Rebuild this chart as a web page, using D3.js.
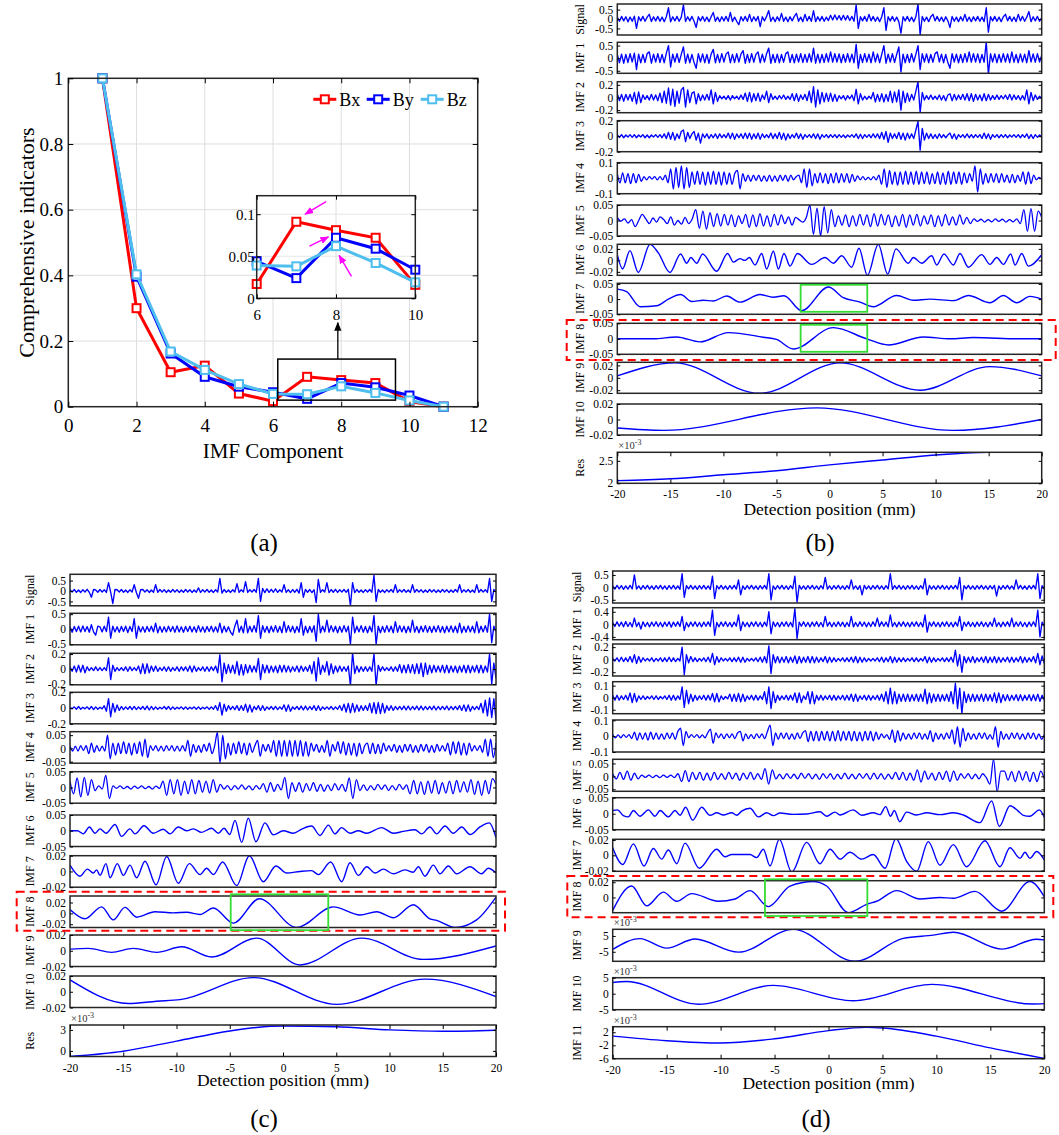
<!DOCTYPE html>
<html>
<head>
<meta charset="utf-8">
<script src="https://cdn.jsdelivr.net/npm/d3@7"></script>
<style>
body { margin: 0; background: #fff; }
svg { display: block; }
</style>
</head>
<body>
<svg id="fig" width="1059" height="1135"></svg>
<script>
// ---------- (a) comprehensive indicators per IMF component
var imfComp = [1, 2, 3, 4, 5, 6, 7, 8, 9, 10, 11];
var bx = [1, 0.30, 0.105, 0.125, 0.04, 0.017, 0.091, 0.081, 0.072, 0.016, 0];
var by = [1, 0.396, 0.162, 0.091, 0.061, 0.044, 0.024, 0.072, 0.059, 0.034, 0];
var bz = [1, 0.403, 0.168, 0.112, 0.069, 0.039, 0.038, 0.062, 0.042, 0.019, 0];
var aTicksX = [0, 2, 4, 6, 8, 10, 12];
var aTicksY = [0, 0.2, 0.4, 0.6, 0.8, 1];
var insetTicksX = [6, 8, 10];
var insetTicksY = [0, 0.05, 0.1];
var posTicks = [-20, -15, -10, -5, 0, 5, 10, 15, 20];

// ---------- (b) decomposition, Bx  (noisy rows: evenly spaced samples over -20..20 mm)
var bSignal = [
0.1,-0.12,0.14,-0.1,0.12,-0.15,0.1,-0.12,0.15,-0.5,0.12,-0.1,0.14,-0.12,0.1,0.25,-0.13,0.12,-0.1,0.14,
-0.12,0.1,-0.14,0.12,0.6,-0.15,0.12,-0.1,0.14,-0.12,0.1,0.75,-0.13,0.12,-0.1,0.14,-0.12,-0.45,0.12,-0.1,
0.14,-0.12,0.1,-0.14,0.12,0.35,-0.12,0.1,-0.14,0.12,-0.1,0.14,-0.12,0.35,-0.13,0.1,-0.12,-0.3,0.12,-0.1,
0.14,-0.12,0.25,-0.14,0.12,-0.1,0.14,-0.4,0.12,-0.1,0.14,0.45,-0.12,0.1,-0.14,0.12,-0.1,0.3,-0.12,0.1,
-0.14,0.12,-0.1,0.14,0.3,-0.12,0.1,-0.14,0.25,-0.1,0.14,-0.12,0.45,-0.14,0.12,-0.1,0.14,-0.12,0.1,-0.08,
0.2,-0.05,0.22,-0.04,0.18,-0.06,0.2,-0.05,0.18,-0.08,0.14,-0.12,0.75,-0.5,0.12,-0.1,0.14,-0.12,0.25,-0.1,
0.14,-0.12,0.1,-0.14,0.12,0.6,-0.6,0.12,-0.1,0.14,-0.12,0.1,-0.14,-0.75,0.12,-0.1,0.14,-0.12,0.1,-0.14,
0.12,0.8,-0.85,0.14,-0.12,0.1,-0.14,0.12,0.25,-0.1,0.14,-0.12,0.1,-0.14,0.12,-0.1,-0.45,0.14,-0.12,0.1,
-0.14,0.12,-0.1,0.25,-0.12,0.1,-0.14,0.12,-0.1,0.14,-0.12,0.1,-0.14,0.6,-0.7,0.12,-0.1,0.14,-0.12,0.1,
-0.14,0.12,0.25,-0.1,0.14,-0.12,0.1,-0.14,0.25,-0.1,0.14,-0.12,0.1,0.4,-0.14,0.12,-0.1,0.14,-0.12,0.08];
var bImf1 = [
0.15,-0.18,0.16,-0.2,0.15,-0.17,0.18,-0.15,0.2,-0.45,0.16,-0.18,0.15,-0.17,0.18,0.25,-0.2,0.16,-0.15,0.18,
-0.17,0.15,-0.18,0.2,0.5,-0.35,0.16,-0.15,0.18,-0.17,0.15,0.45,-0.2,0.16,-0.18,0.15,-0.17,-0.4,0.18,-0.15,
0.17,-0.18,0.15,-0.2,0.16,0.35,-0.18,0.15,-0.17,0.18,-0.15,0.16,0.25,-0.18,0.15,-0.17,0.18,-0.15,0.16,0.3,
-0.2,0.15,-0.17,0.18,-0.16,0.15,0.25,-0.18,0.16,-0.15,0.18,0.4,-0.2,0.15,-0.17,0.16,-0.18,0.15,-0.16,0.18,
0.25,-0.17,0.15,-0.18,0.16,-0.15,0.18,-0.17,0.15,-0.16,0.18,-0.15,0.4,-0.2,0.16,-0.18,0.15,-0.17,0.18,-0.15,
0.25,-0.16,0.18,-0.15,0.17,-0.18,0.15,-0.16,0.18,-0.15,0.16,-0.18,0.55,-0.4,0.15,-0.17,0.18,-0.15,0.16,-0.18,
0.25,-0.15,0.17,-0.18,0.15,0.5,-0.2,0.16,-0.15,0.18,-0.17,0.15,0.45,-0.55,0.16,-0.18,0.15,-0.17,0.18,-0.15,
0.16,0.5,-0.45,0.18,-0.15,0.17,-0.18,0.15,-0.16,0.18,0.25,-0.15,0.16,-0.18,0.15,-0.17,-0.4,0.18,-0.15,0.16,
-0.18,0.15,-0.17,0.18,-0.15,0.25,-0.16,0.18,-0.15,0.17,-0.18,0.15,-0.16,0.65,-0.65,0.18,-0.15,0.17,-0.18,0.15,
-0.16,0.18,-0.15,0.17,-0.18,0.25,-0.16,0.15,-0.18,0.17,-0.15,0.16,-0.18,0.3,-0.15,0.17,-0.16,0.18,-0.15,0.12];
var bImf2 = [
0.06,-0.05,0.05,-0.06,0.05,-0.04,0.05,-0.06,0.08,-0.1,0.09,-0.08,0.04,-0.03,0.03,-0.04,0.05,-0.04,0.04,-0.05,
0.07,-0.08,0.1,-0.09,0.15,-0.12,0.13,-0.14,0.1,-0.09,0.12,0.16,-0.15,0.12,-0.08,0.07,0.09,-0.1,0.06,-0.05,
0.04,-0.04,0.05,-0.04,0.12,-0.1,0.08,-0.06,0.03,-0.02,0.02,-0.03,0.03,-0.04,0.03,-0.02,0.02,-0.03,0.04,-0.03,
0.07,-0.06,0.08,-0.07,0.06,-0.05,0.07,-0.06,0.04,-0.03,0.1,-0.08,0.06,-0.03,0.02,-0.03,0.03,-0.02,0.04,-0.03,
0.02,-0.03,0.06,-0.05,0.06,-0.06,0.04,-0.03,0.05,-0.05,0.1,-0.08,0.17,-0.15,0.12,-0.1,0.08,-0.07,0.07,-0.06,
0.07,-0.06,0.05,-0.06,0.03,-0.02,0.03,-0.04,0.03,-0.02,0.04,-0.05,0.13,-0.1,0.06,-0.04,0.02,-0.03,0.02,-0.02,
0.08,-0.07,0.05,-0.06,0.06,-0.07,0.05,-0.06,0.1,-0.08,0.09,-0.07,0.12,-0.2,0.1,-0.08,0.07,-0.06,0.05,-0.04,
0.1,0.25,-0.24,0.08,-0.04,0.03,-0.03,0.04,-0.03,0.02,-0.03,0.04,-0.04,0.03,-0.05,0.04,0.06,-0.05,0.05,-0.04,
0.04,-0.03,0.05,-0.04,0.06,-0.05,0.06,-0.06,0.05,-0.04,0.04,-0.05,0.06,-0.05,0.05,-0.04,0.03,-0.03,0.04,-0.03,
0.03,-0.02,0.04,-0.03,0.05,-0.04,0.04,-0.03,0.03,-0.04,0.03,-0.04,0.12,-0.1,0.08,-0.05,0.04,-0.03,0.02,-0.02];
var bImf3 = [
0.02,-0.015,0.02,-0.02,0.015,-0.01,0.02,-0.015,0.02,-0.02,0.015,-0.01,0.02,-0.02,0.015,-0.02,0.015,-0.01,0.02,-0.015,
0.02,-0.02,0.03,-0.03,0.05,-0.04,0.05,-0.05,0.03,-0.03,0.06,0.08,-0.07,0.05,-0.03,0.03,0.06,-0.05,0.04,-0.09,
0.03,-0.02,0.03,-0.03,0.02,-0.02,0.03,-0.03,0.03,-0.02,0.02,-0.02,0.04,-0.03,0.04,-0.04,0.03,-0.02,0.03,-0.03,
0.04,-0.03,0.04,-0.04,0.03,-0.03,0.04,-0.04,0.03,-0.02,0.02,-0.02,0.04,-0.03,0.03,-0.03,0.05,-0.04,0.04,-0.05,
0.03,-0.03,0.02,-0.02,0.04,-0.03,0.03,-0.04,0.02,-0.015,0.02,-0.02,0.03,-0.03,0.03,-0.04,0.02,-0.015,0.02,-0.02,
0.02,-0.015,0.02,-0.02,0.02,-0.015,0.015,-0.02,0.015,-0.01,0.02,-0.015,0.03,-0.03,0.025,-0.03,0.02,-0.015,0.02,-0.02,
0.03,-0.02,0.03,-0.03,0.05,-0.04,0.06,-0.08,0.04,-0.03,0.03,-0.03,0.05,-0.04,0.04,-0.05,0.04,-0.03,0.03,-0.03,
0.08,0.19,-0.18,0.1,-0.05,0.04,-0.03,0.03,-0.03,0.02,-0.03,0.03,-0.02,0.02,-0.02,0.015,0.04,-0.03,0.03,-0.04,
0.02,-0.015,0.02,-0.02,0.03,-0.02,0.02,-0.02,0.02,-0.015,0.02,-0.03,0.04,-0.03,0.03,-0.04,0.02,-0.015,0.02,-0.02,
0.02,-0.015,0.02,-0.02,0.015,-0.01,0.02,-0.015,0.02,-0.02,0.02,-0.015,0.03,-0.03,0.02,-0.03,0.02,-0.015,0.015,-0.01];
var bImf4 = [
0.03,-0.03,0.035,-0.03,0.03,-0.035,0.03,-0.03,0.025,-0.02,
0.01,-0.01,0.01,-0.005,0.01,-0.01,0.01,-0.01,0.02,-0.03,
0.06,-0.07,0.07,-0.06,0.08,-0.07,0.07,-0.06,0.04,-0.04,
0.045,-0.04,0.04,-0.045,0.04,-0.04,0.045,-0.04,0.04,-0.045,
0.04,-0.04,0.035,-0.04,0.03,0.05,-0.07,0.03,-0.02,0.02,
-0.02,0.02,-0.015,0.02,-0.02,0.015,-0.02,0.02,-0.02,0.015,
-0.02,0.02,-0.015,0.02,-0.02,0.02,-0.01,0.01,0.02,-0.03,
0.06,-0.06,0.06,-0.05,0.03,-0.03,0.035,-0.03,0.03,-0.035,
0.03,-0.03,0.035,-0.03,0.03,-0.025,0.03,-0.03,0.025,-0.02,
0.015,-0.01,0.01,-0.01,0.005,-0.01,0.01,-0.01,0.02,-0.04,
0.06,-0.06,0.05,-0.04,0.04,-0.045,0.04,-0.04,0.045,-0.04,
0.04,-0.04,0.045,-0.04,0.04,-0.035,0.04,-0.04,0.03,-0.035,
0.04,-0.04,0.035,-0.04,0.045,-0.04,0.04,-0.035,0.04,-0.04,
0.035,-0.03,0.03,-0.02,0.08,-0.09,0.06,-0.04,0.03,-0.03,
0.03,-0.025,0.03,-0.03,0.03,-0.025,0.02,-0.03,0.025,-0.03,
0.02,-0.02,0.04,-0.04,0.04,-0.035,0.02,-0.01,0.005,-0.005];
var bImf5 = [
0.01,-0.002,0.005,-0.008,0.003,-0.02,0.0,0.02,0.005,-0.01,
0.008,-0.005,0.012,0.003,-0.01,0.012,-0.015,0.0,-0.012,0.01,
-0.01,0.005,0.035,-0.025,0.03,-0.028,0.025,-0.02,0.022,-0.018,
0.02,-0.015,0.018,-0.02,0.015,-0.01,0.02,-0.022,0.018,-0.02,
0.022,-0.018,0.015,-0.02,0.02,-0.015,0.018,-0.01,0.012,-0.015,
0.01,0.002,-0.005,0.01,0.05,-0.045,0.04,-0.05,0.045,-0.04,
0.035,-0.02,0.015,-0.015,0.018,-0.02,0.015,-0.018,0.02,-0.015,
0.018,-0.02,0.022,-0.018,0.02,-0.015,0.018,-0.02,0.015,-0.018,
0.02,-0.022,0.018,-0.015,0.02,-0.018,0.015,-0.012,0.018,-0.02,
0.015,-0.018,0.02,-0.015,0.012,-0.015,0.018,-0.012,0.01,-0.01,
0.005,-0.003,0.004,-0.005,0.003,-0.004,0.005,-0.003,0.004,-0.005,
0.003,-0.004,0.005,-0.01,0.035,-0.035,0.038,-0.035,0.03,0.01];
// smooth rows: [position (mm), value] at turning points
var bImf6 = [[-20,0.01],[-19.5,-0.015],[-18.81,0.017],[-18.02,-0.021],[-16.92,0.028],[-16.13,0.013],
[-15.04,-0.021],[-14.03,0.011],[-13.46,-0.005],[-13.06,0.005],[-12.52,-0.005],[-11.96,0.011],
[-10.64,-0.019],[-9.6,0.012],[-9.06,-0.003],[-8.44,0.003],[-7.97,0],[-7.56,0.005],[-7.02,-0.008],
[-6.39,0.012],[-5.92,-0.015],[-5.29,0.016],[-4.82,-0.015],[-4.29,0.012],[-3.72,-0.01],[-3.03,0.012],
[-1.68,-0.007],[-0.42,0.005],[0.36,-0.005],[1.15,0.008],[2.09,-0.012],[2.78,0.021],[3.57,-0.026],
[4.6,0.028],[5.48,-0.024],[6.27,0.02],[7.43,-0.005],[7.9,0.005],[8.69,-0.005],[9.63,0.008],
[10.1,-0.008],[10.79,0.011],[11.67,-0.008],[12.3,0.012],[13.09,-0.012],[14.34,0.01],[15.13,-0.007],
[15.76,0.005],[16.39,-0.007],[17.08,0.011],[17.49,-0.008],[18.12,0.012],[18.74,-0.01],[20,0.01]];
var bImf7 = [[-20,0.033],[-19.12,0.025],[-17.86,-0.025],[-16.29,-0.022],[-15.19,0],[-14.03,0.015],
[-12.99,-0.008],[-11.89,-0.004],[-10.95,-0.006],[-9.69,0.01],[-8.44,-0.01],[-6.55,0.015],[-5.3,0.006],
[-4.29,0.011],[-2.62,-0.038],[-0.11,0.04],[1.3,0.005],[2.88,-0.01],[4.13,-0.025],[6.33,0.012],
[7.9,-0.004],[9.47,0],[11.67,-0.005],[13.09,0.012],[15.13,-0.012],[16.39,0.012],[17.64,-0.012],
[18.9,0.009],[20,0]];
var bImf8 = [[-20,0],[-16.6,0],[-14.4,0.006],[-12.2,-0.01],[-9.54,0.02],[-6.24,0.005],[-5,-0.002],
[-3.41,-0.033],[0.36,0.036],[3.5,0],[5.55,-0.02],[8.84,0.006],[11.36,0],[13.56,0.004],[17.96,0],[20,0]];
var bImf9 = [[-20,0.003],[-14.56,0.024],[-6.6,-0.025],[1.0,0.024],[8.53,-0.02],[15.1,0.018],[20,0.003]];
var bImf10 = [[-20,-0.011],[-15.66,-0.014],[-1.2,0.015],[11.67,-0.014],[20,0]];
var bRes = [[-20,2.06],[-15,2.1],[-10,2.19],[-5,2.28],[0,2.41],[5,2.52],[10,2.63],[15,2.69],[20,2.7]];

// ---------- (c) decomposition, By
var cSignal = [
0.06,-0.05,0.07,-0.06,0.05,-0.07,0.06,-0.05,0.08,-0.06,-0.3,0.07,0.05,-0.06,0.07,-0.05,0.06,-0.07,0.4,-0.06,
-0.6,0.07,0.06,-0.05,0.07,-0.06,0.05,-0.07,0.06,-0.05,0.3,-0.07,-0.35,0.06,0.07,-0.05,0.06,-0.07,0.05,-0.06,
0.3,-0.06,0.07,-0.05,0.06,-0.07,0.05,-0.06,0.07,-0.05,0.06,-0.07,0.05,-0.06,0.07,-0.05,0.06,-0.07,0.05,-0.06,
0.15,-0.07,0.06,-0.05,0.07,-0.06,0.05,-0.07,0.06,-0.05,0.6,-0.1,0.07,-0.06,0.05,-0.07,0.06,-0.05,0.35,-0.07,
0.06,-0.05,0.45,-0.07,0.06,-0.05,0.07,-0.06,0.6,-0.5,0.12,-0.08,0.1,-0.07,0.08,-0.06,0.1,-0.07,0.06,-0.05,
0.3,-0.07,0.06,-0.08,0.07,-0.06,0.08,-0.1,0.4,-0.3,0.08,-0.06,0.07,-0.08,0.06,-0.55,0.55,-0.07,0.06,-0.05,
0.4,-0.08,0.07,-0.06,0.08,-0.07,0.06,-0.05,0.07,-0.06,0.08,-0.7,0.4,-0.08,0.07,-0.06,0.05,-0.07,0.06,-0.05,
0.07,-0.06,0.75,-0.5,0.07,-0.06,0.05,-0.07,0.06,-0.05,0.07,-0.06,0.3,-0.07,0.06,-0.05,0.07,-0.06,0.05,-0.07,
0.3,-0.06,0.07,-0.05,0.06,-0.07,0.05,-0.06,0.07,-0.05,0.06,-0.07,0.05,-0.06,0.07,-0.05,0.06,-0.07,0.05,-0.06,
0.07,-0.05,0.3,-0.07,0.06,-0.05,0.07,-0.06,0.05,-0.07,0.3,-0.06,0.07,-0.05,0.06,-0.07,0.6,-0.5,0.07,-0.05];
var cImf1 = [
0.08,-0.1,0.09,-0.08,0.1,-0.09,0.11,-0.08,0.09,-0.1,0.15,-0.09,-0.2,0.1,0.08,-0.09,0.1,-0.08,0.4,-0.3,
0.1,-0.09,0.08,-0.1,0.09,-0.08,0.1,-0.11,0.09,-0.08,0.35,-0.3,0.1,-0.09,0.08,-0.1,0.09,-0.08,0.1,-0.09,
0.2,-0.12,0.09,-0.1,0.08,-0.09,0.1,-0.08,0.09,-0.1,0.11,-0.09,0.08,-0.1,0.09,-0.08,0.1,-0.09,0.08,-0.1,
0.12,-0.09,0.08,-0.1,0.09,-0.08,0.1,-0.09,0.08,-0.1,0.2,-0.12,0.1,-0.09,0.08,-0.1,-0.2,0.1,0.3,-0.1,
0.1,-0.12,0.35,-0.12,0.1,-0.09,0.12,-0.1,0.45,-0.3,0.12,-0.1,0.09,-0.12,0.1,-0.09,0.12,-0.1,0.09,-0.12,
0.25,-0.1,0.12,-0.09,0.1,-0.12,0.09,-0.1,0.35,-0.2,0.1,-0.12,0.09,-0.1,0.12,-0.4,0.5,-0.12,0.1,-0.09,
0.3,-0.1,0.12,-0.09,0.1,-0.12,0.09,-0.1,0.12,-0.09,0.1,-0.5,0.4,-0.12,0.1,-0.09,0.12,-0.1,0.09,-0.12,
0.1,-0.09,0.45,-0.5,0.1,-0.12,0.09,-0.1,0.12,-0.09,0.1,-0.12,0.25,-0.1,0.12,-0.09,0.1,-0.12,0.09,-0.1,
0.3,-0.1,0.09,-0.12,0.1,-0.09,0.12,-0.1,0.09,-0.11,0.1,-0.09,0.12,-0.1,0.09,-0.12,0.1,-0.09,0.11,-0.1,
0.1,-0.12,0.2,-0.12,0.09,-0.1,0.11,-0.09,0.1,-0.12,0.25,-0.12,0.1,-0.09,0.12,-0.1,0.5,-0.45,0.1,-0.08];
var cImf2 = [
0.03,-0.03,0.04,-0.04,0.05,-0.04,0.05,-0.05,0.03,-0.02,0.02,-0.02,0.03,-0.02,0.02,-0.02,0.02,-0.02,0.15,-0.14,
0.05,-0.03,0.02,-0.02,0.02,-0.02,0.03,-0.03,0.03,-0.02,0.02,-0.02,0.04,-0.06,0.07,-0.06,0.07,-0.05,0.04,-0.03,
0.04,-0.03,0.02,-0.02,0.03,-0.03,0.03,-0.03,0.02,-0.02,0.03,-0.03,0.03,-0.02,0.03,-0.03,0.04,-0.04,0.04,-0.03,
0.02,-0.02,0.03,-0.03,0.03,-0.03,0.03,-0.02,0.04,-0.05,0.19,-0.17,0.08,-0.06,0.06,-0.05,0.05,-0.06,0.1,-0.08,
0.06,-0.08,0.06,-0.05,0.05,-0.04,0.04,-0.04,0.14,-0.14,0.06,-0.05,0.05,-0.05,0.04,-0.04,0.04,-0.05,0.05,-0.04,
0.05,-0.04,0.04,-0.04,0.03,-0.03,0.04,-0.04,0.04,-0.03,0.03,-0.03,0.05,-0.06,0.1,-0.16,0.15,-0.07,0.05,-0.04,
0.1,-0.08,0.07,-0.06,0.04,-0.04,0.04,-0.03,0.03,-0.03,0.04,-0.22,0.22,-0.06,0.04,-0.04,0.03,-0.03,0.03,-0.03,
0.03,-0.03,0.2,-0.22,0.05,-0.03,0.03,-0.02,0.02,-0.02,0.03,-0.03,0.03,-0.03,0.06,-0.05,0.05,-0.05,0.06,-0.05,
0.06,-0.06,0.07,-0.06,0.08,-0.1,0.08,-0.07,0.05,-0.05,0.05,-0.04,0.04,-0.04,0.05,-0.05,0.05,-0.05,0.04,-0.04,
0.04,-0.05,0.04,-0.04,0.05,-0.05,0.05,-0.05,0.04,-0.04,0.05,-0.05,0.05,-0.05,0.04,-0.04,0.2,-0.2,0.08,-0.12];
var cImf3 = [
0.01,-0.01,0.015,-0.015,0.02,-0.015,0.01,-0.01,0.015,-0.015,0.02,-0.02,0.015,-0.015,0.01,-0.01,0.03,-0.04,0.12,-0.11,
0.06,-0.05,0.04,-0.03,0.02,-0.02,0.015,-0.015,0.02,-0.02,0.02,-0.02,0.015,-0.015,0.02,-0.02,0.025,-0.025,0.02,-0.02,
0.015,-0.015,0.01,-0.01,0.02,-0.015,0.02,-0.02,0.015,-0.015,0.01,-0.01,0.015,-0.015,0.015,-0.015,0.01,-0.01,0.015,-0.015,
0.015,-0.015,0.01,-0.01,0.015,-0.015,0.015,-0.015,0.03,-0.03,0.07,-0.09,0.05,-0.04,0.03,-0.02,0.02,-0.02,0.03,-0.03,
0.03,-0.03,0.05,-0.05,0.04,-0.05,0.02,-0.02,0.03,-0.03,0.03,-0.03,0.015,-0.015,0.02,-0.02,0.02,-0.02,0.015,-0.015,
0.04,-0.04,0.04,-0.04,0.015,-0.015,0.02,-0.02,0.025,-0.025,0.025,-0.025,0.02,-0.02,0.03,-0.03,0.03,-0.03,0.015,-0.015,
0.015,-0.015,0.02,-0.02,0.015,-0.015,0.03,-0.03,0.05,-0.05,0.06,-0.06,0.06,-0.05,0.04,-0.04,0.03,-0.03,0.03,-0.03,
0.06,-0.06,0.07,-0.07,0.07,-0.07,0.06,-0.06,0.03,-0.03,0.03,-0.03,0.02,-0.02,0.02,-0.02,0.025,-0.025,0.025,-0.025,
0.02,-0.02,0.025,-0.025,0.025,-0.025,0.02,-0.02,0.02,-0.02,0.025,-0.025,0.02,-0.02,0.02,-0.02,0.025,-0.025,0.02,-0.02,
0.02,-0.02,0.03,-0.03,0.04,-0.04,0.04,-0.04,0.02,-0.02,0.02,-0.02,0.06,-0.06,0.1,-0.1,0.13,-0.12,0.12,-0.15];
var cImf4 = [
0.01,-0.01,0.008,-0.01,0.01,-0.008,0.01,-0.02,0.02,-0.015,
0.01,-0.01,0.008,-0.01,0.05,-0.04,0.02,-0.025,0.02,-0.02,
0.025,-0.02,0.02,-0.025,0.02,-0.02,0.025,-0.03,0.035,-0.035,
0.01,-0.008,0.01,-0.01,0.008,-0.01,0.01,-0.008,0.01,-0.01,
0.008,-0.01,0.01,-0.01,0.03,-0.03,0.015,-0.015,0.01,-0.015,
0.015,-0.01,0.02,-0.02,0.01,0.06,-0.055,0.05,-0.04,0.02,
-0.025,0.02,-0.02,0.025,-0.02,0.02,-0.025,0.02,-0.015,0.01,
0.03,-0.03,0.015,-0.01,0.015,-0.015,0.03,-0.03,0.03,-0.03,
0.03,-0.03,0.03,-0.03,0.03,-0.03,0.03,-0.03,0.025,-0.03,
0.02,-0.01,0.015,-0.015,0.01,-0.015,0.03,-0.03,0.015,-0.01,
0.025,-0.02,0.025,-0.025,0.02,-0.025,0.02,-0.03,0.02,-0.02,
0.01,0.02,-0.02,0.02,-0.02,0.015,-0.02,0.02,-0.01,0.01,
-0.01,0.015,-0.015,0.01,-0.015,0.015,-0.01,0.015,-0.015,0.01,
-0.015,0.015,-0.01,0.015,-0.015,0.01,-0.015,0.015,-0.01,0.01,
-0.01,0.02,-0.025,0.025,-0.02,0.025,-0.025,0.02,-0.025,0.02,
-0.01,0.01,-0.008,0.01,-0.015,0.035,-0.03,0.035,-0.035,0.02];
var cImf5 = [
0.02,-0.02,0.03,-0.03,0.032,-0.025,0.025,-0.01,0.005,-0.005,
0.038,-0.035,0.005,-0.003,0.005,-0.004,0.003,-0.005,0.004,-0.003,
0.005,-0.004,0.003,-0.005,0.004,-0.003,0.02,-0.025,0.025,-0.02,
0.025,-0.025,0.02,-0.02,0.025,-0.02,0.022,-0.015,0.02,-0.018,
0.025,-0.015,0.01,-0.005,0.006,-0.008,0.006,-0.005,0.008,-0.006,
0.005,-0.008,0.006,-0.005,0.012,-0.015,0.015,-0.012,0.01,-0.008,
0.032,-0.035,0.015,-0.012,0.015,-0.015,0.012,-0.01,0.015,-0.012,
0.01,-0.012,0.008,-0.01,0.012,-0.008,0.01,-0.012,0.03,-0.035,
0.025,-0.01,0.008,-0.01,0.006,-0.008,0.01,-0.006,0.008,-0.01,
0.006,-0.008,0.01,-0.006,0.008,-0.02,0.022,-0.02,0.018,-0.022,
0.02,-0.018,0.022,-0.02,0.015,-0.018,0.02,-0.02,0.022,-0.015,
0.018,-0.015,0.025,-0.022,0.02,-0.025,0.022,-0.02,0.028,0.01];
var cImf6 = [[-20,0],[-19.31,0],[-18.75,-0.01],[-18.18,0.012],[-17.65,-0.008],[-17.18,0.006],[-16.62,-0.008],
[-15.77,0.02],[-15.15,-0.018],[-14.37,0.006],[-13.9,-0.01],[-13.05,0.016],[-12.18,-0.008],[-11.24,0.005],
[-10.61,-0.01],[-9.83,0.012],[-9.05,0],[-8.42,0.006],[-7.64,-0.005],[-6.7,0.008],[-6.07,-0.008],[-5.54,0.008],
[-5.0,-0.012],[-4.51,0.033],[-3.88,-0.037],[-3.26,0.04],[-2.54,-0.035],[-1.69,0.025],[-0.91,-0.013],[0.03,0],
[0.97,-0.008],[1.75,0.005],[2.69,0.015],[3.47,-0.015],[4.26,0.018],[4.88,-0.01],[5.5,0.01],[6.3,-0.008],
[7.07,0],[7.86,-0.008],[9.26,0.01],[10.36,-0.008],[11.3,-0.002],[12.39,0.003],[13.02,-0.01],[13.8,0.012],
[14.43,-0.01],[15.21,0.015],[15.99,-0.008],[16.78,0.012],[17.56,-0.012],[18.5,0.012],[19.37,0.025],[20,-0.022]];
var cImf7 = [[-20,0.008],[-19.06,-0.006],[-18.37,0.003],[-17.81,-0.002],[-17.5,0.002],[-17.18,-0.005],
[-16.62,0.01],[-16.24,-0.008],[-15.56,0.01],[-14.99,-0.005],[-14.37,0.008],[-13.74,-0.008],[-12.96,0.013],
[-11.92,-0.017],[-10.92,0.019],[-9.83,-0.015],[-8.79,0.01],[-7.79,-0.004],[-7.17,0.004],[-6.54,-0.004],
[-5.67,0.012],[-4.35,-0.018],[-3.16,0.02],[-1.85,-0.013],[-0.66,0.007],[0.34,-0.002],[1.6,0],[2.69,0.001],
[3.32,-0.004],[4.48,0.012],[5.51,-0.013],[6.29,0.011],[7.07,-0.005],[7.86,0.006],[8.64,-0.002],[9.42,0.003],
[10.36,-0.003],[11.46,0.002],[12.24,-0.001],[12.71,0.006],[13.33,-0.006],[14.12,0.008],[14.74,-0.003],
[15.52,0.007],[16.31,-0.003],[17.56,0.006],[18.65,-0.003],[19.28,0.004],[20,-0.002]];
var cImf8 = [[-20,0.007],[-18.59,-0.01],[-17.03,0.012],[-15.93,-0.012],[-14.84,0.011],[-13.74,-0.007],
[-12.02,0.003],[-10.3,0.001],[-9.05,0.002],[-7.79,-0.002],[-6.54,0.01],[-4.66,-0.018],[-2.22,0.027],
[1.28,-0.026],[4.73,0.012],[7.23,-0.003],[8.79,0.003],[10.36,-0.008],[12.24,0.016],[13.8,-0.01],
[14.43,-0.013],[16.15,-0.026],[18.18,-0.012],[20,0.03]];
var cImf9 = [[-20,0.002],[-18.28,0.003],[-16.09,-0.002],[-14.05,0.003],[-11.86,-0.002],[-9.51,0.005],
[-6.7,-0.008],[-2.47,0.016],[1.6,-0.018],[7.39,0.016],[13.18,-0.011],[20,0.006]];
var cImf10 = [[-20,0.015],[-14.52,-0.015],[-11.86,-0.012],[-9.67,-0.01],[-2.78,0.018],[5.04,-0.016],
[13.33,0.016],[20,-0.006]];
var cRes = [[-20,-0.8],[-15,-0.05],[-10,1.4],[-5,2.85],[-2.5,3.35],[0,3.55],[5,3.45],[10,3.0],[15,2.8],[20,2.95]];

// ---------- (d) decomposition, Bz
var dSignal = [
0.06,-0.07,0.08,-0.06,0.07,-0.08,0.06,-0.07,0.08,-0.06,0.5,-0.07,0.06,-0.08,0.07,-0.06,0.08,-0.07,0.06,-0.08,
0.07,-0.06,0.08,-0.07,0.06,-0.08,0.07,-0.06,0.08,-0.07,0.06,-0.08,0.55,-0.4,0.07,-0.06,0.08,-0.07,0.06,-0.08,
0.07,-0.06,0.08,-0.07,0.06,-0.08,0.45,-0.45,0.07,-0.06,0.08,-0.07,0.06,-0.08,0.07,-0.06,0.08,-0.07,0.3,-0.3,
0.06,-0.08,0.07,-0.06,0.08,-0.07,0.06,-0.08,0.07,-0.06,0.08,-0.07,0.55,-0.5,0.06,-0.08,0.07,-0.06,0.08,-0.07,
0.06,-0.08,0.07,-0.06,0.45,-0.6,0.08,-0.07,0.06,-0.08,0.07,-0.06,0.08,-0.07,0.06,-0.08,0.07,-0.06,0.4,-0.07,
0.06,-0.08,0.07,-0.06,0.08,-0.07,0.06,-0.08,0.07,-0.06,0.3,-0.07,0.06,-0.08,0.07,-0.3,0.08,-0.07,0.06,-0.08,
0.07,-0.06,0.08,-0.07,0.06,-0.08,0.07,-0.06,0.55,-0.08,0.07,-0.06,0.08,-0.07,0.06,-0.08,0.07,-0.06,0.08,-0.07,
0.06,-0.08,0.07,-0.06,0.35,-0.3,0.08,-0.07,0.06,-0.08,0.07,-0.06,0.08,-0.07,0.06,-0.08,0.07,-0.06,0.08,-0.07,
0.4,-0.5,0.07,-0.06,0.08,-0.07,0.06,-0.08,0.07,-0.06,0.08,-0.07,0.06,-0.08,0.07,-0.06,0.08,-0.35,0.06,-0.08,
0.07,-0.06,0.08,-0.07,0.06,-0.08,0.3,-0.06,0.08,-0.07,0.06,-0.08,0.07,-0.06,0.08,-0.07,0.55,-0.45,0.07,-0.06];
var dImf1 = [
0.06,-0.07,0.08,-0.06,0.07,-0.08,0.09,-0.07,0.06,-0.08,0.2,-0.07,0.06,-0.15,0.08,-0.07,0.06,-0.08,0.07,-0.06,
0.08,-0.07,0.06,-0.08,0.07,-0.06,0.08,-0.09,0.07,-0.06,0.08,-0.07,0.25,-0.2,0.06,-0.08,0.07,-0.06,0.08,-0.07,
0.06,-0.08,0.07,-0.06,0.08,-0.07,0.45,-0.35,0.06,-0.08,0.07,-0.06,0.08,-0.07,0.06,-0.08,0.07,-0.06,0.3,-0.2,
0.08,-0.07,0.06,-0.08,0.07,-0.06,0.08,-0.07,0.06,-0.08,0.07,-0.06,0.4,-0.3,0.08,-0.07,0.06,-0.08,0.07,-0.06,
0.08,-0.07,0.06,-0.08,0.5,-0.45,0.07,-0.06,0.08,-0.07,0.06,-0.08,0.07,-0.06,0.08,-0.07,0.06,-0.08,0.25,-0.06,
0.07,-0.08,0.06,-0.07,0.08,-0.06,0.07,-0.08,0.06,-0.07,0.25,-0.08,0.06,-0.07,0.08,-0.06,0.07,-0.08,0.06,-0.07,
0.08,-0.06,0.2,-0.07,0.08,-0.06,0.07,-0.08,0.3,-0.07,0.06,-0.08,0.07,-0.06,0.08,-0.07,0.06,-0.08,0.07,-0.06,
0.08,-0.07,0.06,-0.08,0.3,-0.25,0.07,-0.06,0.08,-0.07,0.06,-0.08,0.07,-0.06,0.08,-0.07,0.06,-0.08,0.07,-0.06,
0.25,-0.2,0.07,-0.06,0.08,-0.07,0.06,-0.08,0.07,-0.06,0.08,-0.07,0.06,-0.08,0.07,-0.06,0.2,-0.07,0.06,-0.08,
0.07,-0.06,0.08,-0.07,0.2,-0.08,0.07,-0.06,0.08,-0.07,0.06,-0.08,0.07,-0.06,0.08,-0.07,0.45,-0.4,0.07,-0.06];
var dImf2 = [
0.02,-0.02,0.03,-0.03,0.04,-0.03,0.03,-0.03,0.05,-0.04,0.08,-0.06,0.05,-0.04,0.03,-0.02,0.02,-0.02,0.03,-0.03,
0.02,-0.02,0.03,-0.03,0.03,-0.03,0.04,-0.03,0.03,-0.03,0.02,-0.02,0.2,-0.24,0.08,-0.05,0.05,-0.03,0.03,-0.03,
0.02,-0.02,0.03,-0.03,0.04,-0.04,0.1,-0.08,0.05,-0.04,0.03,-0.02,0.02,-0.02,0.03,-0.03,0.03,-0.03,0.04,-0.04,
0.04,-0.04,0.02,-0.02,0.02,-0.02,0.03,-0.03,0.04,-0.04,0.05,-0.05,0.22,-0.22,0.08,-0.05,0.05,-0.05,0.04,-0.04,
0.05,-0.05,0.04,-0.04,0.06,-0.06,0.05,-0.05,0.04,-0.04,0.05,-0.05,0.05,-0.05,0.04,-0.04,0.03,-0.03,0.05,-0.05,
0.04,-0.04,0.03,-0.03,0.02,-0.02,0.03,-0.03,0.03,-0.03,0.04,-0.04,0.05,-0.05,0.04,-0.04,0.03,-0.03,0.02,-0.02,
0.02,-0.02,0.03,-0.03,0.04,-0.04,0.03,-0.03,0.05,-0.05,0.04,-0.04,0.03,-0.03,0.03,-0.03,0.02,-0.02,0.03,-0.03,
0.03,-0.03,0.02,-0.02,0.05,-0.05,0.04,-0.04,0.03,-0.03,0.02,-0.02,0.03,-0.03,0.03,-0.03,0.04,-0.04,0.15,-0.1,
0.08,-0.2,0.05,-0.05,0.04,-0.04,0.05,-0.05,0.03,-0.03,0.04,-0.04,0.05,-0.05,0.04,-0.04,0.05,-0.05,0.04,-0.04,
0.03,-0.03,0.04,-0.04,0.04,-0.04,0.03,-0.03,0.05,-0.05,0.04,-0.04,0.03,-0.03,0.05,-0.05,0.1,-0.08,0.06,-0.06];
var dImf3 = [
0.02,-0.02,0.02,-0.02,0.015,-0.015,0.02,-0.02,0.04,-0.04,0.035,-0.035,0.015,-0.015,0.015,-0.015,0.01,-0.01,0.015,-0.015,
0.015,-0.015,0.01,-0.01,0.015,-0.015,0.02,-0.02,0.02,-0.02,0.015,-0.015,0.09,-0.08,0.06,-0.05,0.03,-0.03,0.02,-0.02,
0.015,-0.015,0.02,-0.02,0.02,-0.02,0.035,-0.035,0.035,-0.035,0.015,-0.015,0.01,-0.01,0.03,-0.03,0.03,-0.03,0.035,-0.035,
0.03,-0.03,0.015,-0.015,0.02,-0.02,0.02,-0.02,0.015,-0.015,0.05,-0.05,0.09,-0.09,0.05,-0.04,0.02,-0.02,0.015,-0.015,
0.02,-0.02,0.02,-0.02,0.04,-0.04,0.04,-0.04,0.015,-0.015,0.05,-0.05,0.05,-0.05,0.02,-0.02,0.02,-0.02,0.015,-0.015,
0.02,-0.02,0.02,-0.02,0.015,-0.015,0.02,-0.02,0.02,-0.02,0.03,-0.03,0.03,-0.03,0.015,-0.015,0.02,-0.02,0.02,-0.02,
0.015,-0.015,0.02,-0.02,0.03,-0.03,0.05,-0.05,0.08,-0.05,0.05,-0.05,0.03,-0.03,0.03,-0.03,0.03,-0.03,0.025,-0.025,
0.03,-0.03,0.03,-0.03,0.07,-0.05,0.04,-0.04,0.03,-0.03,0.03,-0.03,0.025,-0.025,0.03,-0.03,0.05,-0.05,0.12,-0.09,
0.08,-0.13,0.05,-0.04,0.03,-0.03,0.03,-0.03,0.025,-0.025,0.03,-0.03,0.03,-0.025,0.025,-0.03,0.04,-0.04,0.04,-0.04,
0.025,-0.025,0.025,-0.025,0.02,-0.02,0.025,-0.025,0.025,-0.025,0.02,-0.02,0.025,-0.025,0.025,-0.025,0.03,-0.03,0.02,-0.02];
var dImf4 = [
0.01,-0.01,0.008,-0.01,0.01,-0.008,0.01,-0.015,0.025,-0.025,
0.02,-0.02,0.02,-0.025,0.025,-0.02,0.02,-0.02,0.015,-0.02,
0.02,-0.015,0.02,-0.02,0.03,0.05,-0.06,0.03,-0.01,0.01,
-0.008,0.01,-0.01,0.008,-0.01,0.02,0.045,-0.045,0.02,-0.01,
0.015,-0.015,0.015,-0.01,0.015,-0.015,0.02,0.03,-0.03,0.015,
-0.015,0.01,-0.015,0.015,-0.01,0.015,-0.015,0.03,0.07,-0.06,
0.02,-0.02,0.02,-0.015,0.02,-0.02,0.015,-0.02,0.02,-0.015,
0.02,0.035,-0.035,0.03,-0.03,0.03,-0.03,0.03,-0.025,0.03,
-0.03,0.03,-0.03,0.035,-0.03,0.03,-0.025,0.03,-0.03,0.03,
-0.03,0.025,-0.03,0.03,-0.025,0.03,-0.03,0.025,-0.02,0.015,
-0.01,0.01,-0.02,0.04,-0.04,0.035,-0.03,0.02,-0.02,0.015,
-0.02,0.02,-0.015,0.02,-0.02,0.015,-0.02,0.035,-0.035,0.02,
-0.02,0.015,-0.02,0.02,-0.015,0.04,-0.05,0.06,-0.07,0.05,
-0.03,0.02,-0.02,0.015,-0.02,0.02,-0.015,0.02,-0.02,0.01,
-0.02,0.06,-0.07,0.03,-0.02,0.015,-0.02,0.02,-0.015,0.02,
-0.02,0.015,-0.02,0.02,-0.015,0.02,-0.02,0.015,-0.02,0.01];
var dImf5 = [
0.01,-0.01,0.015,-0.012,0.02,-0.015,0.012,-0.01,0.005,-0.004,
0.005,-0.005,0.004,-0.005,0.005,-0.004,0.005,-0.005,0.01,-0.02,
0.022,-0.02,0.015,-0.012,0.015,-0.015,0.012,-0.015,0.015,-0.012,
0.01,-0.012,0.015,-0.01,0.012,-0.015,0.012,-0.01,0.015,-0.012,
0.01,-0.012,0.03,-0.03,0.025,-0.01,0.008,-0.01,0.01,-0.008,
0.008,-0.01,0.012,-0.008,0.01,-0.01,0.008,-0.012,0.01,-0.008,
0.01,-0.012,0.008,-0.01,0.012,-0.01,0.008,-0.01,0.01,-0.008,
0.01,-0.012,0.012,-0.01,0.01,-0.012,0.008,-0.01,0.015,-0.012,
0.015,-0.015,0.012,-0.015,0.025,-0.022,0.02,-0.012,0.012,-0.015,
0.015,-0.012,0.02,-0.02,0.02,-0.015,0.01,-0.008,0.01,-0.01,
0.008,-0.01,0.01,-0.005,-0.03,0.065,-0.06,0.02,0.02,-0.015,
0.018,-0.02,0.02,-0.015,0.018,-0.02,0.015,-0.02,0.02,-0.01];
var dImf6 = [[-20,0.01],[-19.57,0.012],[-19.01,-0.006],[-18.55,-0.01],[-18.08,0.01],[-17.47,-0.008],
[-16.69,0.012],[-16.08,-0.008],[-15.61,0.01],[-14.84,-0.01],[-14.22,0.01],[-13.76,-0.005],[-13.24,0.02],
[-12.59,-0.02],[-11.75,0.02],[-10.98,-0.005],[-10.36,0.003],[-9.75,-0.004],[-8.97,0.003],[-8.51,-0.005],
[-8.05,0.008],[-7.27,0.017],[-6.5,-0.01],[-5.73,0.003],[-5.11,-0.006],[-4.49,0.002],[-3.26,-0.002],
[-2.02,-0.001],[-0.79,0.006],[-0.17,-0.008],[0.6,0.005],[1.07,-0.004],[2.3,0.012],[3.07,-0.005],
[4.15,0.003],[4.77,-0.003],[5.3,0.022],[5.75,-0.008],[6.1,0.01],[6.6,-0.025],[7.24,0.005],[8.17,-0.004],
[9.1,0.003],[10.33,-0.003],[11.57,0.003],[12.49,-0.004],[14.04,-0.028],[15.12,0.04],[15.83,-0.04],
[16.82,0.025],[17.59,0.008],[18.05,-0.005],[18.67,-0.008],[19.54,0.012],[20,-0.012]];
var dImf7 = [[-20,0.01],[-19.07,-0.012],[-18.08,0.015],[-17.1,-0.014],[-16.23,0.009],[-15.46,-0.005],
[-14.84,0.007],[-14.07,-0.011],[-13.3,0.016],[-11.97,-0.017],[-10.36,0.008],[-9.59,-0.002],[-8.97,0.001],
[-7.27,0.001],[-6.66,-0.003],[-6.04,0.008],[-5.42,-0.014],[-4.56,0.021],[-3.41,-0.022],[-2.02,0.017],
[-0.79,-0.011],[0.14,0.008],[1.07,-0.005],[1.99,0.004],[3.07,-0.005],[4.15,0.001],[5.24,-0.017],
[6.25,0.022],[7.24,-0.008],[8.17,-0.021],[9.25,0.018],[10.33,-0.013],[11.57,0.014],[12.8,-0.015],
[14.5,0.019],[15.89,-0.015],[16.82,0.01],[17.75,-0.004],[18.21,0.004],[18.67,-0.004],[19.29,0.005],[20,-0.006]];
var dImf8 = [[-20,-0.017],[-18.24,0.015],[-16.85,-0.011],[-15.31,0.007],[-14.07,-0.005],[-12.68,0.005],
[-10.21,-0.005],[-8.66,-0.002],[-7.27,0.009],[-5.58,-0.012],[-3.57,0.015],[-1.41,0.021],[-0.17,0.015],
[1.84,-0.02],[3.54,-0.009],[4.46,-0.005],[6.32,0.009],[8.48,-0.002],[10.33,0],[11.57,-0.001],[13.58,0.008],
[16.05,-0.018],[18.67,0.021],[20,0.001]];
var dImf9 = [[-20,-3.5],[-17.47,3.3],[-15,-2.7],[-12.37,3.1],[-8.36,-5.2],[-3.26,9.2],[2.46,-11],
[6.93,3.5],[9.71,5.5],[11.57,7.3],[16.05,-3.3],[19.29,2.9],[20,2.5]];
var dImf10 = [[-20,3.5],[-18.7,3.8],[-12.06,-3.3],[-5.11,2.6],[2.3,-2.2],[9.56,2.9],[18.98,-3.2],[20,-3.1]];
var dImf11 = [[-20,0.8],[-15,-0.6],[-10,-1.3],[-5,0],[0,2.5],[3.5,3.5],[5,3.3],[10,0.8],[15,-2.8],[20,-6.0]];

// ---------- layout
var serif = '"Liberation Serif", "Times New Roman", serif';
var blue = '#0000ff';
var fmt = function (v) { return String(v); };
var svg = d3.select('#fig');
var defs = svg.append('defs');

function head(id, color, size) {
  defs.append('marker').attr('id', id)
    .attr('viewBox', '0 0 10 10').attr('refX', 9).attr('refY', 5)
    .attr('markerWidth', size).attr('markerHeight', size)
    .attr('markerUnits', 'userSpaceOnUse').attr('orient', 'auto')
    .append('path').attr('d', 'M0,1L10,5L0,9z').attr('fill', color);
}
head('headK', '#000', 9);
head('headM', '#ff00ff', 9);

function styleAxis(g, size) {
  g.attr('font-family', serif).attr('font-size', size);
  g.select('.domain').remove();
  g.selectAll('text').attr('fill', '#000');
}

// ================= panel (a)
var ax = d3.scaleLinear().domain([0, 12]).range([68.3, 477.7]);
var ay = d3.scaleLinear().domain([0, 1]).range([406.7, 78.3]);
var ga = svg.append('g');

ga.selectAll('.gx').data(aTicksX.slice(1, -1)).enter().append('line')
  .attr('x1', function (d) { return ax(d); }).attr('x2', function (d) { return ax(d); })
  .attr('y1', ay(0)).attr('y2', ay(1)).attr('stroke', '#dedede');
ga.selectAll('.gy').data(aTicksY.slice(1, -1)).enter().append('line')
  .attr('y1', function (d) { return ay(d); }).attr('y2', function (d) { return ay(d); })
  .attr('x1', ax(0)).attr('x2', ax(12)).attr('stroke', '#dedede');

var series = [
  { name: 'Bx', values: bx, color: '#ff0000' },
  { name: 'By', values: by, color: '#0000ff' },
  { name: 'Bz', values: bz, color: '#4dbeee' }
];

function drawSeries(g, sx, sy, keep) {
  series.forEach(function (s) {
    var pts = s.values.map(function (v, i) { return [imfComp[i], v]; }).filter(keep);
    g.append('path').datum(pts)
      .attr('d', d3.line().x(function (d) { return sx(d[0]); }).y(function (d) { return sy(d[1]); }))
      .attr('fill', 'none').attr('stroke', s.color).attr('stroke-width', 3);
    g.selectAll(null).data(pts).enter().append('rect')
      .attr('x', function (d) { return sx(d[0]) - 4; }).attr('y', function (d) { return sy(d[1]) - 4; })
      .attr('width', 8).attr('height', 8)
      .attr('fill', '#fff').attr('stroke', s.color).attr('stroke-width', 2);
  });
}
drawSeries(ga, ax, ay, function () { return true; });

ga.append('rect').attr('x', ax(0)).attr('y', ay(1))
  .attr('width', ax(12) - ax(0)).attr('height', ay(0) - ay(1))
  .attr('fill', 'none').attr('stroke', '#262626').attr('stroke-width', 1.5);

styleAxis(ga.append('g').attr('transform', 'translate(0,' + ay(0) + ')')
  .call(d3.axisBottom(ax).tickValues(aTicksX).tickSize(-5).tickPadding(12).tickFormat(fmt)), 19);
styleAxis(ga.append('g').attr('transform', 'translate(0,' + ay(1) + ')')
  .call(d3.axisTop(ax).tickValues(aTicksX).tickSize(-5).tickFormat('')), 19);
styleAxis(ga.append('g').attr('transform', 'translate(' + ax(0) + ',0)')
  .call(d3.axisLeft(ay).tickValues(aTicksY).tickSize(-5).tickPadding(5).tickFormat(fmt)), 19);
styleAxis(ga.append('g').attr('transform', 'translate(' + ax(12) + ',0)')
  .call(d3.axisRight(ay).tickValues(aTicksY).tickSize(-5).tickFormat('')), 19);

ga.append('text').attr('x', ax(6)).attr('y', 458)
  .attr('text-anchor', 'middle').attr('font-family', serif).attr('font-size', 21)
  .text('IMF Component');
ga.append('text').attr('transform', 'translate(34,' + ay(0.5) + ') rotate(-90)')
  .attr('text-anchor', 'middle').attr('font-family', serif).attr('font-size', 22)
  .text('Comprehensive indicators');

// legend
var legX = [313.3, 366.7, 420.7];
series.forEach(function (s, i) {
  var lx = legX[i], ly = 99.3;
  ga.append('line').attr('x1', lx).attr('x2', lx + 23).attr('y1', ly).attr('y2', ly)
    .attr('stroke', s.color).attr('stroke-width', 3);
  ga.append('rect').attr('x', lx + 7.5).attr('y', ly - 4).attr('width', 8).attr('height', 8)
    .attr('fill', '#fff').attr('stroke', s.color).attr('stroke-width', 2);
  ga.append('text').attr('x', lx + 26).attr('y', ly + 6.5)
    .attr('font-family', serif).attr('font-size', 18).text(s.name);
});

// zoom box, arrow and inset
ga.append('rect').attr('x', ax(6.14)).attr('y', ay(0.145))
  .attr('width', ax(9.59) - ax(6.14)).attr('height', ay(0.02) - ay(0.145))
  .attr('fill', 'none').attr('stroke', '#000').attr('stroke-width', 1.5);
ga.append('line').attr('x1', ax(7.9)).attr('x2', ax(7.9)).attr('y1', ay(0.145)).attr('y2', ay(0.256))
  .attr('stroke', '#000').attr('stroke-width', 1.3).attr('marker-end', 'url(#headK)');

var ix = d3.scaleLinear().domain([6, 10]).range([256.7, 415.3]);
var iy = d3.scaleLinear().domain([0, 0.122]).range([298.3, 195.7]);
var gi = svg.append('g');
gi.append('rect').attr('x', ix(6)).attr('y', iy(0.122))
  .attr('width', ix(10) - ix(6)).attr('height', iy(0) - iy(0.122)).attr('fill', '#fff');
gi.append('line').attr('x1', ix(8)).attr('x2', ix(8)).attr('y1', iy(0)).attr('y2', iy(0.122))
  .attr('stroke', '#dedede');
gi.selectAll('.igy').data([0.05, 0.1]).enter().append('line')
  .attr('x1', ix(6)).attr('x2', ix(10))
  .attr('y1', function (d) { return iy(d); }).attr('y2', function (d) { return iy(d); })
  .attr('stroke', '#e6e6e6');
drawSeries(gi, ix, iy, function (d) { return d[0] >= 6 && d[0] <= 10; });
gi.append('rect').attr('x', ix(6)).attr('y', iy(0.122))
  .attr('width', ix(10) - ix(6)).attr('height', iy(0) - iy(0.122))
  .attr('fill', 'none').attr('stroke', '#262626').attr('stroke-width', 1.5);
styleAxis(gi.append('g').attr('transform', 'translate(0,' + iy(0) + ')')
  .call(d3.axisBottom(ix).tickValues(insetTicksX).tickSize(-4).tickPadding(11).tickFormat(fmt)), 15);
styleAxis(gi.append('g').attr('transform', 'translate(0,' + iy(0.122) + ')')
  .call(d3.axisTop(ix).tickValues(insetTicksX).tickSize(-4).tickFormat('')), 15);
styleAxis(gi.append('g').attr('transform', 'translate(' + ix(6) + ',0)')
  .call(d3.axisLeft(iy).tickValues(insetTicksY).tickSize(-4).tickPadding(2).tickFormat(fmt)), 15);
styleAxis(gi.append('g').attr('transform', 'translate(' + ix(10) + ',0)')
  .call(d3.axisRight(iy).tickValues(insetTicksY).tickSize(-4).tickFormat('')), 15);

// magenta pointers (inset data coordinates)
var pointers = [[[7.75, 0.115], [7.22, 0.1]], [[7.33, 0.062], [7.81, 0.073]], [[8.39, 0.026], [8.08, 0.051]]];
pointers.forEach(function (p) {
  gi.append('line').attr('x1', ix(p[0][0])).attr('y1', iy(p[0][1]))
    .attr('x2', ix(p[1][0])).attr('y2', iy(p[1][1]))
    .attr('stroke', '#ff00ff').attr('stroke-width', 1.4).attr('marker-end', 'url(#headM)');
});

// ================= panels (b), (c), (d)
var tickSets = {
  s5: [-0.5, 0, 0.5], s4: [-0.4, 0, 0.4], s2: [-0.2, 0, 0.2], s1: [-0.1, 0, 0.1],
  s05: [-0.05, 0, 0.05], s02: [-0.02, 0, 0.02]
};

var panels = [
  {
    left: 617.3, right: 1041.7, h: 31, labelX: 580, titleY: 515,
    tops: [4, 42.3, 81.7, 120.7, 162.7, 205, 244.3, 283.3, 323.3, 362.3, 404, 452.3],
    hi: { x0: 566.7, y0: 320, x1: 1055.7, y1: 360 },
    green: { from: -2.72, to: 3.56, rows: [7, 8], pad: [1.5, -2.5] },
    rows: [
      { label: 'Signal', data: bSignal, domain: [-0.85, 0.8], ticks: tickSets.s5, kind: 'noise' },
      { label: 'IMF 1', data: bImf1, domain: [-0.6, 0.63], ticks: tickSets.s5, kind: 'noise' },
      { label: 'IMF 2', data: bImf2, domain: [-0.24, 0.25], ticks: tickSets.s2, kind: 'noise' },
      { label: 'IMF 3', data: bImf3, domain: [-0.2, 0.2], ticks: tickSets.s2, kind: 'noise' },
      { label: 'IMF 4', data: bImf4, domain: [-0.1, 0.1], ticks: tickSets.s1, kind: 'wave' },
      { label: 'IMF 5', data: bImf5, domain: [-0.05, 0.05], ticks: tickSets.s05, kind: 'wave' },
      { label: 'IMF 6', data: bImf6, domain: [-0.026, 0.028], ticks: tickSets.s02, kind: 'pts' },
      { label: 'IMF 7', data: bImf7, domain: [-0.05, 0.052], ticks: tickSets.s05, kind: 'pts' },
      { label: 'IMF 8', data: bImf8, domain: [-0.05, 0.05], ticks: tickSets.s05, kind: 'pts' },
      { label: 'IMF 9', data: bImf9, domain: [-0.025, 0.025], ticks: tickSets.s02, kind: 'pts' },
      { label: 'IMF 10', data: bImf10, domain: [-0.02, 0.02], ticks: tickSets.s02, kind: 'pts' },
      { label: 'Res', data: bRes, domain: [2, 2.69], ticks: [2, 2.5], kind: 'pts', exp: true }
    ]
  },
  {
    left: 70, right: 496, h: 31.5, labelX: 30, titleY: 1086,
    tops: [574.3, 613.3, 653.3, 692.3, 731.7, 771.7, 815, 855.7, 896, 935, 976, 1025],
    hi: { x0: 16.7, y0: 891.7, x1: 505, y1: 930.7 },
    green: { from: -4.91, to: 4.25, rows: [8], pad: [-1.7, 2.7] },
    rows: [
      { label: 'Signal', data: cSignal, domain: [-0.71, 0.8], ticks: tickSets.s5, kind: 'noise' },
      { label: 'IMF 1', data: cImf1, domain: [-0.52, 0.53], ticks: tickSets.s5, kind: 'noise' },
      { label: 'IMF 2', data: cImf2, domain: [-0.21, 0.21], ticks: tickSets.s2, kind: 'noise' },
      { label: 'IMF 3', data: cImf3, domain: [-0.2, 0.2], ticks: tickSets.s2, kind: 'noise' },
      { label: 'IMF 4', data: cImf4, domain: [-0.056, 0.063], ticks: tickSets.s05, kind: 'wave' },
      { label: 'IMF 5', data: cImf5, domain: [-0.05, 0.05], ticks: tickSets.s05, kind: 'wave' },
      { label: 'IMF 6', data: cImf6, domain: [-0.05, 0.05], ticks: tickSets.s05, kind: 'pts' },
      { label: 'IMF 7', data: cImf7, domain: [-0.02, 0.02], ticks: tickSets.s02, kind: 'pts' },
      { label: 'IMF 8', data: cImf8, domain: [-0.026, 0.032], ticks: tickSets.s02, kind: 'pts' },
      { label: 'IMF 9', data: cImf9, domain: [-0.02, 0.02], ticks: tickSets.s02, kind: 'pts' },
      { label: 'IMF 10', data: cImf10, domain: [-0.02, 0.02], ticks: tickSets.s02, kind: 'pts' },
      { label: 'Res', data: cRes, domain: [-0.8, 3.7], ticks: [0, 3], kind: 'pts', exp: true }
    ]
  },
  {
    left: 612.7, right: 1044.3, h: 32, labelX: 577, titleY: 1089,
    tops: [571, 607.7, 644, 681.7, 720, 759.3, 797.7, 839.3, 880.7, 929.3, 977.7, 1026.7],
    hi: { x0: 567.3, y0: 876, x1: 1053.3, y1: 917.3 },
    green: { from: -5.89, to: 3.6, rows: [8], pad: [-1.4, 3.3] },
    rows: [
      { label: 'Signal', data: dSignal, domain: [-0.63, 0.66], ticks: tickSets.s5, kind: 'noise' },
      { label: 'IMF 1', data: dImf1, domain: [-0.49, 0.53], ticks: tickSets.s4, kind: 'noise' },
      { label: 'IMF 2', data: dImf2, domain: [-0.26, 0.25], ticks: tickSets.s2, kind: 'noise' },
      { label: 'IMF 3', data: dImf3, domain: [-0.133, 0.133], ticks: tickSets.s1, kind: 'noise' },
      { label: 'IMF 4', data: dImf4, domain: [-0.1, 0.102], ticks: tickSets.s1, kind: 'wave' },
      { label: 'IMF 5', data: dImf5, domain: [-0.058, 0.066], ticks: tickSets.s05, kind: 'wave' },
      { label: 'IMF 6', data: dImf6, domain: [-0.05, 0.05], ticks: tickSets.s05, kind: 'pts' },
      { label: 'IMF 7', data: dImf7, domain: [-0.021, 0.021], ticks: tickSets.s02, kind: 'pts' },
      { label: 'IMF 8', data: dImf8, domain: [-0.02, 0.022], ticks: [0, 0.02], kind: 'pts' },
      { label: 'IMF 9', data: dImf9, domain: [-11, 9.2], ticks: [-5, 5], kind: 'pts', exp: true },
      { label: 'IMF 10', data: dImf10, domain: [-5, 5], ticks: [-5, 0, 5], kind: 'pts', exp: true },
      { label: 'IMF 11', data: dImf11, domain: [-6.1, 3.7], ticks: [-6, -2, 2], kind: 'pts', exp: true }
    ]
  }
];

var strokeByKind = { noise: 1.35, wave: 1.3, pts: 1.4 };
var clipN = 0;
function drawPanel(p) {
  var x = d3.scaleLinear().domain([-20, 20]).range([p.left, p.right]);
  var g = svg.append('g');
  var last = p.rows.length - 1;

  p.rows.forEach(function (r, i) {
    var top = p.tops[i], bot = top + p.h;
    var y = d3.scaleLinear().domain(r.domain).range([bot, top]);
    var cid = 'clip' + (clipN++);
    defs.append('clipPath').attr('id', cid).append('rect')
      .attr('x', p.left).attr('y', top).attr('width', p.right - p.left).attr('height', p.h);

    var pts;
    if (r.kind === 'pts') {
      pts = r.data;
    } else {
      var gx = d3.scaleLinear().domain([0, r.data.length - 1]).range([-20, 20]);
      pts = r.data.map(function (v, k) { return [gx(k), v]; });
    }
    var line = d3.line()
      .x(function (d) { return x(d[0]); }).y(function (d) { return y(d[1]); })
      .curve(r.kind === 'noise' ? d3.curveLinear : d3.curveMonotoneX);
    g.append('path').datum(pts).attr('d', line).attr('clip-path', 'url(#' + cid + ')')
      .attr('fill', 'none').attr('stroke', blue)
      .attr('stroke-width', strokeByKind[r.kind]).attr('stroke-linejoin', 'round');

    g.append('rect').attr('x', p.left).attr('y', top)
      .attr('width', p.right - p.left).attr('height', p.h)
      .attr('fill', 'none').attr('stroke', '#262626').attr('stroke-width', 1.5);

    styleAxis(g.append('g').attr('transform', 'translate(' + p.left + ',0)')
      .call(d3.axisLeft(y).tickValues(r.ticks).tickSize(-3).tickPadding(4).tickFormat(fmt)), 11.5);
    styleAxis(g.append('g').attr('transform', 'translate(' + p.right + ',0)')
      .call(d3.axisRight(y).tickValues(r.ticks).tickSize(-3).tickFormat('')), 11.5);

    g.append('text').attr('transform', 'translate(' + p.labelX + ',' + (top + p.h / 2) + ') rotate(-90)')
      .attr('text-anchor', 'middle').attr('dy', '0.35em')
      .attr('font-family', serif).attr('font-size', 12).text(r.label);

    if (r.exp) {
      var t = g.append('text').attr('x', p.left + 1).attr('y', top - 3)
        .attr('font-family', serif).attr('font-size', 10.5).attr('fill', '#333');
      t.append('tspan').text('\u00d710');
      t.append('tspan').attr('dy', -4).attr('font-size', 8).text('-3');
    }

    if (i === last) {
      styleAxis(g.append('g').attr('transform', 'translate(0,' + bot + ')')
        .call(d3.axisBottom(x).tickValues(posTicks).tickSize(-4).tickPadding(7).tickFormat(fmt)), 11.5);
      styleAxis(g.append('g').attr('transform', 'translate(0,' + top + ')')
        .call(d3.axisTop(x).tickValues(posTicks).tickSize(-4).tickFormat('')), 11.5);
    }
  });

  // highlighted component (dashed) and the defect window (green)
  g.append('rect').attr('x', p.hi.x0).attr('y', p.hi.y0)
    .attr('width', p.hi.x1 - p.hi.x0).attr('height', p.hi.y1 - p.hi.y0)
    .attr('fill', 'none').attr('stroke', '#ff0000').attr('stroke-width', 2)
    .attr('stroke-dasharray', '8,5');
  p.green.rows.forEach(function (ri) {
    var top = p.tops[ri] + p.green.pad[0], bot = p.tops[ri] + p.h + p.green.pad[1];
    g.append('rect').attr('x', x(p.green.from)).attr('y', top)
      .attr('width', x(p.green.to) - x(p.green.from)).attr('height', bot - top)
      .attr('fill', 'none').attr('stroke', '#33dd33').attr('stroke-width', 1.8);
  });

  g.append('text').attr('x', (p.left + p.right) / 2).attr('y', p.titleY)
    .attr('text-anchor', 'middle').attr('font-family', serif).attr('font-size', 17.5)
    .text('Detection position (mm)');
}
panels.forEach(drawPanel);

// panel letters
var letters = [['(a)', 264, 551], ['(b)', 820, 551], ['(c)', 264, 1127], ['(d)', 816, 1127]];
letters.forEach(function (l) {
  svg.append('text').attr('x', l[1]).attr('y', l[2]).attr('text-anchor', 'middle')
    .attr('font-family', serif).attr('font-size', 25).text(l[0]);
});
</script>
</body>
</html>
